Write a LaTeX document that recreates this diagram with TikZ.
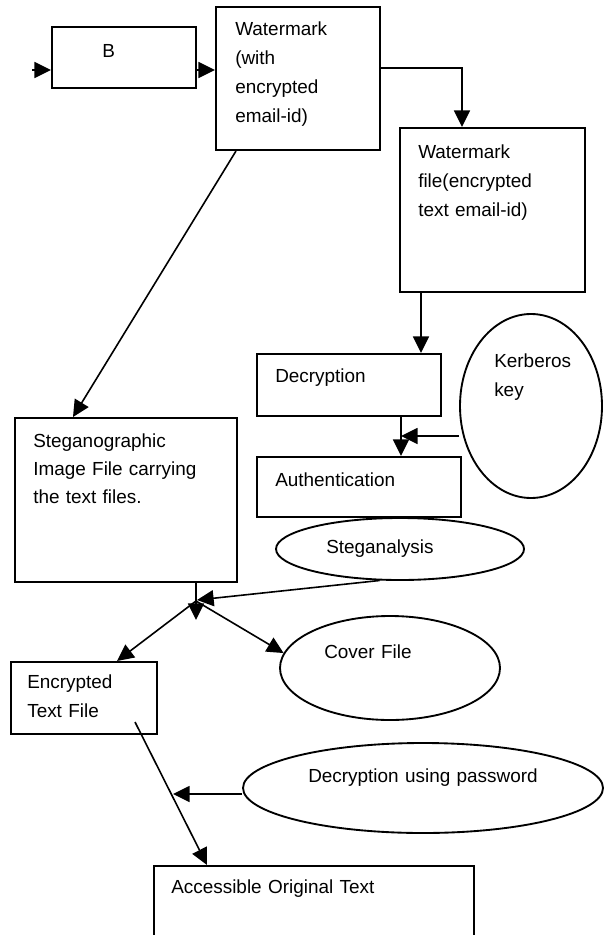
\documentclass[tikz,border=0pt]{standalone}
\usepackage{fontspec}
\setmainfont{Liberation Sans}
\usetikzlibrary{arrows.meta,shapes.geometric,fit}

\begin{document}
\begin{tikzpicture}[x=0.75pt, y=-0.75pt,
  box/.style={draw, line width=1.5pt, inner sep=0pt},
  oval/.style={draw, ellipse, line width=1.4pt, inner sep=0pt},
  lbl/.style={anchor=base west, inner sep=0pt, text width=#1, align=left,
    font=\fontsize{14.2}{22}\selectfont},
  lbl/.default=200pt,
  conn/.style={line width=1.2pt, -{Triangle[length=12.5pt,width=12pt]}}]

% page frame
\useasboundingbox (0,0) rectangle (604,935);
\clip (0,0) rectangle (604,935);

% boxes
\node[box, fit={(52,27) (196,88)}]    (B)   {};
\node[box, fit={(216,7) (380,150)}]   (wm)  {};
\node[box, fit={(400,128) (585,292)}] (wmf) {};
\node[box, fit={(257,354) (441,416)}] (dec) {};
\node[box, fit={(257,457) (461,517)}] (auth) {};
\node[box, fit={(15,418) (237,582)}]  (steg) {};
\node[box, fit={(11,662) (157,734)}]  (enc) {};
\node[box, fit={(154,866) (474,960)}] (acc) {};

% ellipses
\node[oval, minimum width=106.5pt, minimum height=138pt] (kerb)  at (531,406) {};
\node[oval, minimum width=186pt,   minimum height=46.5pt] (sa)   at (400,549) {};
\node[oval, minimum width=165pt,   minimum height=78pt]   (cover) at (390,668) {};
\node[oval, minimum width=270pt,   minimum height=67.5pt] (dup)  at (423,788) {};

% labels
\node[lbl] (tB)     at (102,57)  {B};
\node[lbl] (twm)    at (235,35)  {Watermark\\(with\\encrypted\\email-id)};
\node[lbl] (twmf)   at (418,158) {Watermark\\file(encrypted\\text email-id)};
\node[lbl] (tdec)   at (275,382) {Decryption};
\node[lbl] (tauth)  at (275,486) {Authentication};
\node[lbl] (tkerb)  at (494,367) {Kerberos\\key};
\node[lbl=170pt, font=\fontsize{14.2}{21}\selectfont] (tsteg) at (33,447) {Steganographic\\Image File carrying\\the text files.};
\node[lbl] (tsa)    at (326,553) {Steganalysis};
\node[lbl] (tenc)   at (27,688)  {Encrypted\\Text File};
\node[lbl] (tcover) at (324,658) {Cover File};
\node[lbl=260pt] (tdup) at (308,782) {Decryption using password};
\node[lbl=260pt] (tacc) at (171,893) {Accessible Original Text};

% helper points for the connectors
\coordinate (in)    at (32,70);
\coordinate (wmOut) at (380,68);
\coordinate (wmfIn) at (462,128);
\coordinate (x421)  at (421,0);
\coordinate (x401)  at (401,0);
\coordinate (k)     at (0,436);
\coordinate (a1)    at (236,0);
\coordinate (a2)    at (73,0);
\coordinate (x196)  at (196,0);
\coordinate (jdown) at (196,620);
\coordinate (J)     at (196,601);
\coordinate (sJ)    at (197,600);
\coordinate (xe)    at (117,0);
\coordinate (e1)    at (135,722);
\coordinate (xa)    at (207,0);
\coordinate (p)     at (173,794);

% connectors
\draw[conn] (in) -- (in -| B.west);
\draw[conn] (in -| B.east) -- (in -| wm.west);
\draw[conn] (wm.east |- wmOut) -| (wmf.north -| wmfIn);
\draw[conn] (x421 |- wmf.south) -- (x421 |- dec.north);
\draw[conn] (x401 |- dec.south) -- (x401 |- auth.north);
\draw[conn] (kerb.west |- k) -- (x401 |- k);
\draw[conn] (a1 |- wm.south) -- (a2 |- steg.north);
\draw[conn] (x196 |- steg.south) -- (jdown);
\draw[conn] (sa.237) -- (sJ);
\draw[conn] (J) -- (xe |- enc.north);
\draw[conn] (J) -- (cover.172);
\draw[conn] (e1) -- (xa |- acc.north);
\draw[conn] (dup.west |- p) -- (p);
\end{tikzpicture}
\end{document}
